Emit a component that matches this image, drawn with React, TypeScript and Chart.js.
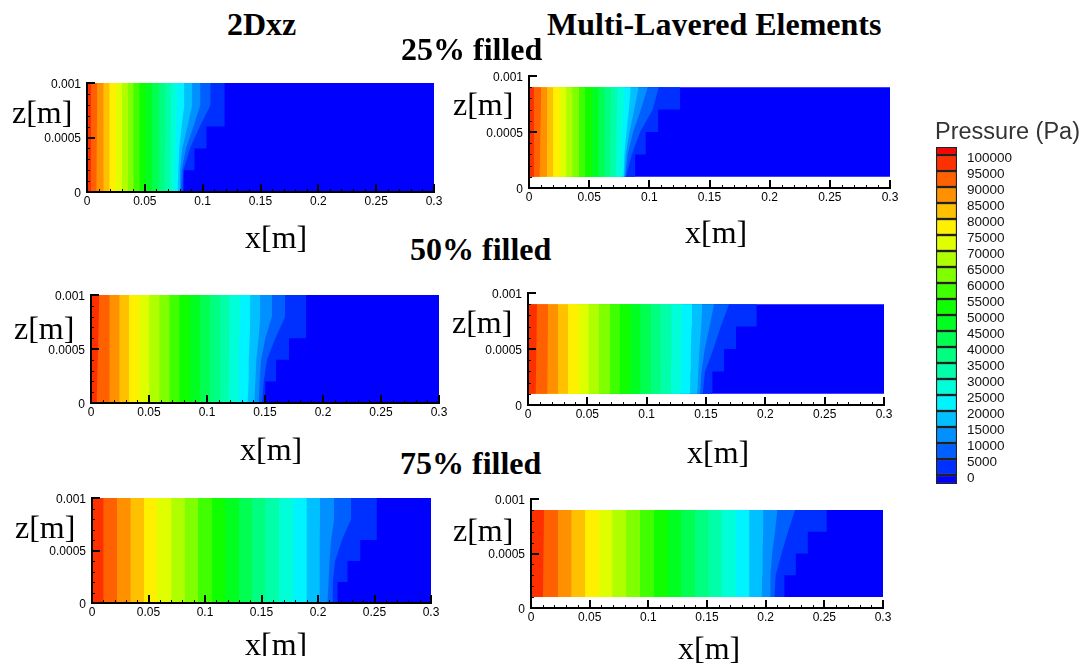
import React, { useEffect, useRef } from "react";
import { Chart, registerables } from "chart.js";

Chart.register(...registerables);

// ---------- data ----------
const pressureLevels = [0, 5000, 10000, 15000, 20000, 25000, 30000, 35000, 40000, 45000, 50000, 55000, 60000, 65000, 70000, 75000, 80000, 85000, 90000, 95000, 100000];
const legendBoxEdges = [-2812, 0, 5000, 10000, 15000, 20000, 25000, 30000, 35000, 40000, 45000, 50000, 55000, 60000, 65000, 70000, 75000, 80000, 85000, 90000, 95000, 100000, 102500];
const legendColors = ["#0000ff", "#0030ff", "#0060ff", "#0090ff", "#00c0ff", "#00f4ff", "#00ffd8", "#00ffa8", "#00ff80", "#00ff50", "#00ff20", "#10ff00", "#40ff00", "#7fff00", "#afff00", "#dfff00", "#fff000", "#ffc000", "#ff9000", "#ff6000", "#ff3000", "#ff0000"];
// colours of the contour bands, from x = 0 towards the front
const bandColors = ["#ff3000", "#ff6000", "#ff9000", "#ffc000", "#fff000", "#dfff00", "#afff00", "#7fff00", "#40ff00", "#10ff00", "#00ff20", "#00ff50", "#00ff80", "#00ffa8", "#00ffd8", "#00f4ff", "#00c0ff", "#0090ff", "#0060ff", "#0030ff"];
const frontColor = "#0000ff";

const stations2D = [0, 0.0002, 0.0004, 0.0006, 0.0008, 0.001];
const stationsLayered = [0.0001, 0.0003, 0.0005, 0.0007, 0.0009];

// Right edge x of each band: one value (straight), bottom/top, or one per mesh station.
const edges2D25 = [[0.0035, 0.0037], [0.0081, 0.0089], [0.0144], [0.0196], [0.025, 0.0254], [0.0303], [0.0355], [0.0404], [0.0456], [0.0508], [0.0565], [0.0623], [0.0672, 0.0678], [0.072, 0.073],
  [0.0755, 0.076, 0.0765, 0.077, 0.078, 0.0782], [0.0784, 0.079, 0.0798, 0.0818, 0.0842, 0.0842], [0.0798, 0.0804, 0.0824, 0.0868, 0.0911, 0.0911], [0.081, 0.0818, 0.0856, 0.092, 0.0981, 0.0981], [0.0824, 0.0833, 0.089, 0.0975, 0.1069, 0.1069]];
const steps2D25 = [0.0836, 0.0929, 0.1033, 0.1191, 0.1191];

const edgesLayered25 = [[0.0039, 0.0041], [0.0088, 0.0102], [0.0149, 0.0152], [0.0202], [0.0257], [0.031], [0.0362], [0.0417], [0.0467], [0.0523], [0.0578], [0.0628], [0.0675, 0.0683], [0.072, 0.0735],
  [0.0766, 0.0769, 0.0774, 0.0785, 0.0791], [0.0785, 0.0793, 0.081, 0.083, 0.0846], [0.0793, 0.0805, 0.0835, 0.0875, 0.0912], [0.08, 0.082, 0.0865, 0.093, 0.0987], [0.0805, 0.0854, 0.0923, 0.1028, 0.1078]];
const stepsLayered25 = [0.0882, 0.097, 0.1073, 0.1255];

const edges2D50 = [[0.0049, 0.0072], [0.0158, 0.0161], [0.0247], [0.033], [0.042], [0.0503], [0.0592], [0.0678], [0.0764], [0.0856], [0.0943], [0.1029], [0.1115], [0.1185, 0.1195],
  [0.1273, 0.1273, 0.1275, 0.1278, 0.1285, 0.1287], [0.135, 0.1359, 0.136, 0.1368, 0.1374, 0.1374], [0.1408, 0.1417, 0.1425, 0.1445, 0.146, 0.146], [0.1445, 0.1454, 0.1466, 0.1503, 0.156, 0.156], [0.1474, 0.1489, 0.1517, 0.1589, 0.1675, 0.1675]];
const steps2D50 = [0.1503, 0.1595, 0.1707, 0.1856, 0.1856];

const edgesLayered50 = [[0.0065, 0.0076], [0.0163, 0.0169], [0.0253], [0.0338], [0.0431], [0.0512], [0.0599], [0.069], [0.0774], [0.0864], [0.0948], [0.1036], [0.112], [0.1205, 0.121],
  [0.1286, 0.129, 0.1293, 0.1296, 0.13], [0.1365, 0.1368, 0.1372, 0.1378, 0.1382], [0.1427, 0.1435, 0.1445, 0.146, 0.1469], [0.145, 0.1462, 0.149, 0.153, 0.1568], [0.1472, 0.1492, 0.1562, 0.1624, 0.1694]];
const stepsLayered50 = [0.1554, 0.1652, 0.1753, 0.1928];

const edges2D75 = [[0.0098, 0.0103], [0.0222], [0.0343], [0.0461], [0.0579], [0.0704], [0.0822], [0.094], [0.1064], [0.1182], [0.1301], [0.1419], [0.1537], [0.1658], [0.1782], [0.1901],
  [0.2013, 0.2014, 0.2015, 0.2016, 0.2018, 0.2019], [0.2084, 0.2093, 0.2102, 0.2116, 0.2143, 0.2143], [0.2128, 0.2131, 0.2152, 0.2211, 0.2294, 0.2294]];
const steps2D75 = [0.2173, 0.2261, 0.2374, 0.2521, 0.2521];

const edgesLayered75 = [[0.0102, 0.0111], [0.0227, 0.023], [0.0346], [0.0463], [0.0579], [0.0695], [0.0812], [0.0931], [0.105], [0.1167], [0.128], [0.1399], [0.1516], [0.1626], [0.1746], [0.1862],
  [0.1967, 0.197, 0.1974, 0.1978, 0.1981], [0.2038, 0.2041, 0.2055, 0.208, 0.21], [0.2075, 0.2085, 0.2135, 0.219, 0.2251]];
const stepsLayered75 = [0.216, 0.2257, 0.2359, 0.2521];

const xMajorTicks = [0, 0.05, 0.1, 0.15, 0.2, 0.25, 0.3];
const zMajorTicks = [0, 0.0005, 0.001];

// ---------- layout ----------
const panels = [
  { edges: edges2D25, steps: steps2D25, zs: stations2D, left: 87, right: 434, top: 83, bottom: 192 },
  { edges: edgesLayered25, steps: stepsLayered25, zs: stationsLayered, left: 529, right: 890, top: 76, bottom: 188 },
  { edges: edges2D50, steps: steps2D50, zs: stations2D, left: 91, right: 439, top: 295, bottom: 403 },
  { edges: edgesLayered50, steps: stepsLayered50, zs: stationsLayered, left: 528, right: 884, top: 293, bottom: 405 },
  { edges: edges2D75, steps: steps2D75, zs: stations2D, left: 92, right: 431, top: 498, bottom: 603 },
  { edges: edgesLayered75, steps: stepsLayered75, zs: stationsLayered, left: 531, right: 883, top: 499, bottom: 608 },
];

const serifLabels = [
  { text: "2Dxz", x: 227, y: 35, bold: true },
  { text: "Multi-Layered Elements", x: 547, y: 35, bold: true, clip: 1 },
  { text: "25% filled", x: 401, y: 60, bold: true },
  { text: "50% filled", x: 410, y: 260, bold: true },
  { text: "75% filled", x: 400, y: 474, bold: true },
  { text: "z[m]", x: 12, y: 123 }, { text: "z[m]", x: 453, y: 115 },
  { text: "z[m]", x: 14, y: 339 }, { text: "z[m]", x: 452, y: 333 },
  { text: "z[m]", x: 15, y: 538 }, { text: "z[m]", x: 453, y: 541 },
  { text: "x[m]", x: 245, y: 248 }, { text: "x[m]", x: 685, y: 243 },
  { text: "x[m]", x: 240, y: 460 }, { text: "x[m]", x: 687, y: 463 },
  { text: "x[m]", x: 245, y: 655, clip: 1 }, { text: "x[m]", x: 678, y: 659 },
];

const tickFont = { family: "'Liberation Sans', Arial, sans-serif", size: 12 };

const near = (a: number, b: number, eps: number) => Math.abs(a - b) < eps;

const inwardTicks = {
  id: "inwardTicks",
  afterDatasetsDraw(chart: any) {
    const { ctx, scales } = chart;
    const { x, y } = scales;
    ctx.save();
    ctx.strokeStyle = "#000";
    x.ticks.forEach((t: any) => {
      const major = xMajorTicks.some((m) => near(m, t.value, 1e-6));
      const px = Math.round(x.getPixelForValue(t.value));
      ctx.lineWidth = major ? 2 : 1;
      ctx.beginPath();
      ctx.moveTo(px + (major ? 0 : 0.5), y.bottom);
      ctx.lineTo(px + (major ? 0 : 0.5), y.bottom - (major ? 8 : 3));
      ctx.stroke();
    });
    y.ticks.forEach((t: any) => {
      const major = zMajorTicks.some((m) => near(m, t.value, 1e-8));
      const py = Math.round(y.getPixelForValue(t.value));
      ctx.lineWidth = major ? 2 : 1;
      ctx.beginPath();
      ctx.moveTo(x.left, py + (major ? 0 : 0.5));
      ctx.lineTo(x.left + (major ? 8 : 3), py + (major ? 0 : 0.5));
      ctx.stroke();
    });
    ctx.restore();
  },
};

function edgePoints(row: number[], zs: number[]) {
  const low = zs[0];
  const high = zs[zs.length - 1];
  if (row.length === 1) return [{ x: 0, y: low }, { x: row[0], y: low }, { x: row[0], y: high }];
  if (row.length === 2) return [{ x: 0, y: low }, { x: row[0], y: low }, { x: row[1], y: high }];
  return [{ x: 0, y: low }, ...row.map((x, i) => ({ x, y: zs[i] }))];
}

function stepPoints(steps: number[], zs: number[]) {
  const pts = [{ x: 0, y: zs[0] }];
  steps.forEach((x, i) => {
    pts.push({ x, y: zs[i] });
    pts.push({ x, y: zs[i + 1] });
  });
  return pts;
}

const PAD_L = 50, PAD_R = 24, PAD_T = 14, PAD_B = 30;

function Panel({ p }: { p: (typeof panels)[number] }) {
  const ref = useRef<HTMLCanvasElement>(null);
  useEffect(() => {
    const high = p.zs[p.zs.length - 1];
    const band = (data: any[], color: string) => ({
      data,
      showLine: true,
      pointRadius: 0,
      borderWidth: 0,
      tension: 0,
      backgroundColor: color,
      fill: { target: { value: high } },
    });
    const datasets = [
      ...p.edges.map((row, i) => band(edgePoints(row, p.zs), bandColors[i])),
      band(stepPoints(p.steps, p.zs), bandColors[19]),
      band([{ x: 0, y: p.zs[0] }, { x: 0.3, y: p.zs[0] }, { x: 0.3, y: high }], frontColor),
    ];
    const chart = new Chart(ref.current as HTMLCanvasElement, {
      type: "scatter",
      data: { datasets },
      plugins: [inwardTicks],
      options: {
        animation: false,
        responsive: false,
        events: [],
        layout: { padding: { left: 0, right: PAD_R, top: PAD_T, bottom: 0 } },
        plugins: { legend: { display: false }, tooltip: { enabled: false } },
        scales: {
          x: {
            type: "linear",
            min: 0,
            max: 0.3,
            afterFit: (s: any) => { s.height = PAD_B; },
            grid: { display: false, drawTicks: false },
            border: { display: true, color: "#000", width: 2, z: 2 },
            ticks: {
              stepSize: 0.01,
              autoSkip: false,
              maxRotation: 0,
              padding: 2,
              color: "#000",
              font: tickFont,
              callback: (v: any) => {
                const m = xMajorTicks.find((t) => near(t, Number(v), 1e-6));
                return m === undefined ? "" : String(m);
              },
            },
          },
          y: {
            type: "linear",
            min: 0,
            max: 0.001,
            afterFit: (s: any) => { s.width = PAD_L; },
            grid: { display: false, drawTicks: false },
            border: { display: true, color: "#000", width: 2, z: 2 },
            ticks: {
              stepSize: 0.0001,
              autoSkip: false,
              padding: 6,
              labelOffset: 1.5,
              color: "#000",
              font: tickFont,
              callback: (v: any) => {
                const m = zMajorTicks.find((t) => near(t, Number(v), 1e-8));
                return m === undefined ? "" : String(m);
              },
            },
          },
        },
      },
    } as any);
    return () => chart.destroy();
  }, [p]);
  const w = p.right - p.left + PAD_L + PAD_R;
  const h = p.bottom - p.top + PAD_T + PAD_B;
  return (
    <canvas
      ref={ref}
      width={w}
      height={h}
      style={{ position: "absolute", left: p.left - PAD_L, top: p.top - PAD_T, width: w, height: h }}
    />
  );
}

function PressureLegend() {
  const ref = useRef<HTMLCanvasElement>(null);
  useEffect(() => {
    const datasets = legendColors.map((c, i) => ({
      data: [[legendBoxEdges[i], legendBoxEdges[i + 1]]],
      backgroundColor: c,
      borderColor: "#222",
      borderWidth: 1.5,
      borderSkipped: false,
      barPercentage: 1,
      categoryPercentage: 1,
      grouped: false,
    }));
    const chart = new Chart(ref.current as HTMLCanvasElement, {
      type: "bar",
      data: { labels: [""], datasets },
      options: {
        animation: false,
        responsive: false,
        events: [],
        layout: { padding: { left: 4, right: 0, top: 20, bottom: 20 } },
        plugins: { legend: { display: false }, tooltip: { enabled: false } },
        scales: {
          x: { display: false, grid: { display: false } },
          y: {
            position: "right",
            min: legendBoxEdges[0],
            max: legendBoxEdges[legendBoxEdges.length - 1],
            afterFit: (s: any) => { s.width = 130; },
            afterBuildTicks: (s: any) => { s.ticks = pressureLevels.map((value) => ({ value })); },
            grid: { display: false, drawTicks: false },
            border: { display: false },
            ticks: {
              autoSkip: false,
              padding: 10,
              labelOffset: 3.5,
              color: "#111",
              font: { family: "'Liberation Sans', Arial, sans-serif", size: 13.5 },
              callback: (v: any) => String(v),
            },
          },
        },
      },
    } as any);
    return () => chart.destroy();
  }, []);
  return (
    <canvas
      ref={ref}
      width={155}
      height={377}
      style={{ position: "absolute", left: 932, top: 127, width: 155, height: 377 }}
    />
  );
}

function SerifLabel({ l }: { l: (typeof serifLabels)[number] }) {
  const baselineOffset = 26.8;
  return (
    <div
      style={{
        position: "absolute",
        left: l.x,
        top: l.y - baselineOffset,
        font: `${l.bold ? "bold " : ""}32px/32px 'Liberation Serif', 'Times New Roman', serif`,
        color: "#000",
        whiteSpace: "nowrap",
        height: l.clip ? baselineOffset + l.clip : undefined,
        overflow: l.clip ? "hidden" : undefined,
      }}
    >
      {l.text}
    </div>
  );
}

export default function App() {
  return (
    <div style={{ position: "absolute", left: 0, top: 0, width: 1087, height: 667, overflow: "hidden", background: "#fff" }}>
      {panels.map((p, i) => (
        <Panel key={i} p={p} />
      ))}
      <PressureLegend />
      {serifLabels.map((l, i) => (
        <SerifLabel key={i} l={l} />
      ))}
      <div
        style={{
          position: "absolute",
          left: 935,
          top: 119,
          font: "23.5px/24px 'Liberation Sans', Arial, sans-serif",
          color: "#333",
          whiteSpace: "nowrap",
        }}
      >
        Pressure (Pa)
      </div>
    </div>
  );
}
